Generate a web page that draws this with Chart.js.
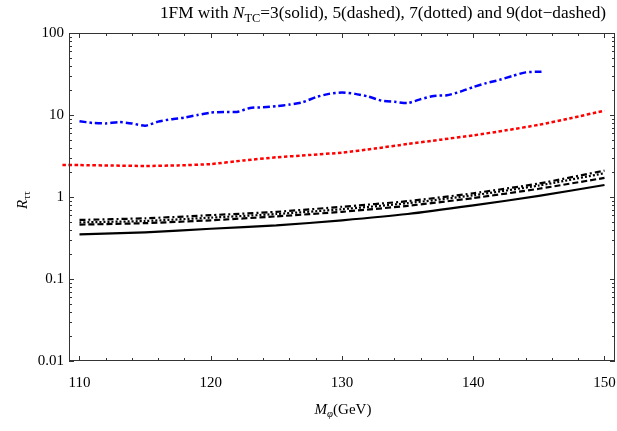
<!DOCTYPE html>
<html lang="en">
<head>
    <meta charset="UTF-8">
    <title>1FM R_tautau</title>
    <script src="https://cdn.jsdelivr.net/npm/chart.js"></script>
    <style>
        body { margin: 0; background: #fff; }
        #wrap { width: 617px; height: 431px; position: relative; }
    </style>
</head>
<body>
    <div id="wrap"><canvas id="chart" width="617" height="431"></canvas></div>

    <script>
        // Black curves (N_TC = 3, 5, 7, 9)
        const massBlack = [110, 115, 120, 125, 130, 135, 140, 145, 150];
        const blackSolid   = [0.35, 0.37, 0.41, 0.45, 0.52, 0.62, 0.79, 1.03, 1.40];
        const blackDashed  = [0.46, 0.48, 0.52, 0.58, 0.66, 0.78, 0.97, 1.26, 1.71];
        const blackDotted  = [0.49, 0.51, 0.56, 0.62, 0.71, 0.84, 1.05, 1.38, 1.95];
        const blackDotDash = [0.525, 0.55, 0.60, 0.66, 0.76, 0.89, 1.11, 1.46, 2.10];

        // Red dotted curve
        const massRed = [108.7, 110, 112.5, 115, 117.5, 120, 122.5, 125, 127.5, 130, 132.5, 135, 137.5, 140, 142.5, 145, 147.5, 150];
        const redDotted = [2.45, 2.45, 2.42, 2.39, 2.43, 2.52, 2.79, 3.05, 3.25, 3.48, 3.9, 4.43, 5.0, 5.65, 6.5, 7.6, 9.2, 11.3];

        // Blue dot-dashed curve
        const massBlue = [110, 111, 112, 113, 114, 115, 116, 117, 118, 119, 120, 121, 122, 123, 124, 125, 126, 127, 128,
                          129, 130, 131, 132, 133, 134, 135, 136, 137, 138, 139, 140, 141, 142, 143, 144, 145.2];
        const blueDotDash = [8.4, 8.0, 7.9, 8.2, 7.9, 7.4, 8.3, 8.9, 9.3, 10.0, 10.7, 10.9, 10.9, 12.2, 12.4, 12.8, 13.4, 14.3, 16.5,
                             18.1, 18.8, 18.1, 16.8, 15.0, 14.5, 14.0, 15.6, 17.1, 17.4, 19.2, 21.9, 24.5, 26.8, 30.0, 33.1, 33.8];

        // Tick labels
        const xTicks = [110, 120, 130, 140, 150];
        const yTicks = [0.01, 0.1, 1, 10, 100];
        const yTickLabels = ['0.01', '0.1', '1', '10', '100'];

        const serif = "'Liberation Serif', 'DejaVu Serif', serif";

        function pts(xs, ys) {
            return xs.map((x, i) => ({ x: x, y: ys[i] }));
        }

        function line(xs, ys, color, dash, width, clip) {
            return {
                data: pts(xs, ys),
                borderColor: color,
                borderWidth: width,
                borderDash: dash,
                borderCapStyle: 'butt',
                pointRadius: 0,
                tension: 0.2,
                fill: false,
                clip: clip
            };
        }

        // draw text made of parts: {t, it, sub}
        function richText(ctx, parts, x, y, size) {
            const widths = parts.map(p => {
                ctx.font = (p.it ? 'italic ' : '') + (p.sub ? size * 0.72 : size) + 'px ' + serif;
                return ctx.measureText(p.t).width;
            });
            let cx = x - widths.reduce((a, b) => a + b, 0) / 2;
            ctx.textAlign = 'left';
            ctx.textBaseline = 'alphabetic';
            parts.forEach((p, i) => {
                ctx.font = (p.it ? 'italic ' : '') + (p.sub ? size * 0.72 : size) + 'px ' + serif;
                ctx.fillText(p.t, cx, p.sub ? y + size * 0.22 : y);
                cx += widths[i];
            });
        }

        const frame = {
            id: 'frame',
            afterDraw(chart) {
                const { ctx, chartArea: a, scales } = chart;
                const xs = scales.x, ys = scales.y;
                ctx.save();
                ctx.strokeStyle = '#333';
                ctx.lineWidth = 1;
                ctx.strokeRect(a.left + 0.5, a.top + 0.5, a.right - a.left - 1, a.bottom - a.top - 1);

                ctx.beginPath();
                // x ticks, bottom and top
                for (let v = 110; v <= 150; v += 2) {
                    const px = Math.round(xs.getPixelForValue(v)) + 0.5;
                    const len = v % 10 === 0 ? 5 : 3;
                    ctx.moveTo(px, a.bottom); ctx.lineTo(px, a.bottom - len);
                    ctx.moveTo(px, a.top); ctx.lineTo(px, a.top + len);
                }
                // y ticks, left and right
                for (let d = -2; d <= 2; d++) {
                    for (let m = 1; m <= 9; m++) {
                        const v = m * Math.pow(10, d);
                        if (v > 100.0001) break;
                        const py = Math.round(ys.getPixelForValue(v)) + 0.5;
                        const len = m === 1 ? 5 : 3;
                        ctx.moveTo(a.left, py); ctx.lineTo(a.left + len, py);
                        ctx.moveTo(a.right, py); ctx.lineTo(a.right - len, py);
                    }
                }
                ctx.stroke();

                ctx.fillStyle = '#000';
                // title
                richText(ctx, [
                    { t: '1FM with ' },
                    { t: 'N', it: true },
                    { t: 'TC', sub: true },
                    { t: '=3(solid), 5(dashed), 7(dotted) and 9(dot\u2212dashed)' }
                ], 383, 18, 17.3);
                // x axis title
                richText(ctx, [
                    { t: 'M', it: true },
                    { t: '\u03c6', it: true, sub: true },
                    { t: '(GeV)' }
                ], 343, 414, 15);
                // y axis title
                ctx.translate(27, 200);
                ctx.rotate(-Math.PI / 2);
                richText(ctx, [
                    { t: 'R', it: true },
                    { t: '\u03c4\u03c4', sub: true }
                ], 0, 0, 15);
                ctx.restore();
            }
        };

        new Chart(document.getElementById('chart'), {
            type: 'line',
            data: {
                datasets: [
                    line(massBlack, blackSolid, '#000', [], 2.2, true),
                    line(massBlack, blackDashed, '#000', [6, 3], 2.2, true),
                    line(massBlack, blackDotted, '#000', [2, 2], 2.2, true),
                    line(massBlack, blackDotDash, '#000', [6, 3, 2, 3], 2.2, true),
                    line(massRed, redDotted, '#ff0000', [3.5, 2.5], 2.5, { left: 8, top: 0, right: 0, bottom: 0 }),
                    line(massBlue, blueDotDash, '#0000ff', [7, 3, 2.5, 3], 2.5, true)
                ]
            },
            options: {
                responsive: false,
                animation: false,
                layout: { padding: { left: 0, right: 2, top: 33, bottom: 0 } },
                plugins: {
                    legend: { display: false },
                    title: { display: false },
                    tooltip: { enabled: false }
                },
                scales: {
                    x: {
                        type: 'linear',
                        min: 109.2,
                        max: 150.8,
                        grid: { display: false, drawTicks: false },
                        border: { display: false },
                        afterBuildTicks: s => { s.ticks = xTicks.map(v => ({ value: v })); },
                        afterFit: s => { s.height = 70; s.paddingLeft = 0; s.paddingRight = 0; },
                        ticks: {
                            padding: 13,
                            color: '#000',
                            font: { family: serif, size: 15 },
                            callback: v => String(v)
                        }
                    },
                    y: {
                        type: 'logarithmic',
                        min: 0.01,
                        max: 100,
                        grid: { display: false, drawTicks: false },
                        border: { display: false },
                        afterBuildTicks: s => { s.ticks = yTicks.map(v => ({ value: v })); },
                        afterFit: s => { s.width = 69; s.paddingTop = 0; s.paddingBottom = 0; },
                        ticks: {
                            padding: 5,
                            color: '#000',
                            font: { family: serif, size: 15 },
                            callback: v => yTickLabels[yTicks.indexOf(v)]
                        }
                    }
                }
            },
            plugins: [frame]
        });
    </script>
</body>
</html>
